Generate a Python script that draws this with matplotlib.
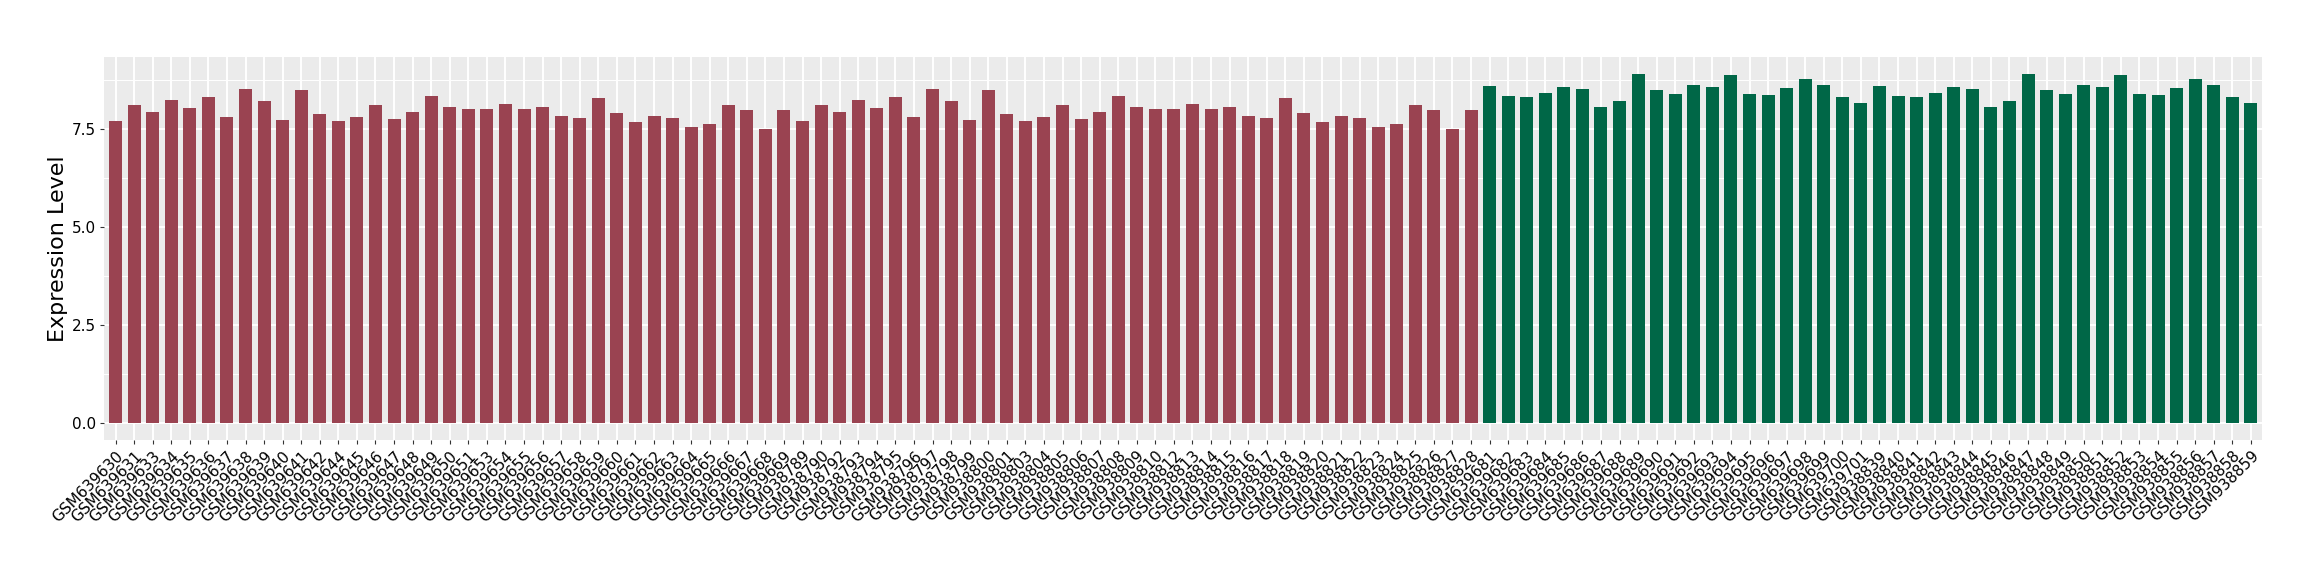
import matplotlib
matplotlib.use("Agg")
import matplotlib.pyplot as plt
from matplotlib.ticker import MultipleLocator

# sample ids, first group (red)
red_samples = (
    ["GSM6396%02d" % n for n in [30, 31, 33, 34, 35, 36, 37, 38, 39, 40, 41, 42, 44, 45, 46, 47, 48,
                                 49, 50, 51, 53, 54, 55, 56, 57, 58, 59, 60, 61, 62, 63, 64, 65, 66,
                                 67, 68, 69]]
    + ["GSM938%03d" % n for n in [789, 790, 792, 793, 794, 795, 796, 797, 798, 799, 800, 801, 803,
                                  804, 805, 806, 807, 808, 809, 810, 812, 813, 814, 815, 816, 817,
                                  818, 819, 820, 821, 822, 823, 824, 825, 826, 827, 828]]
)
red_values = [
    7.70, 8.10, 7.93, 8.23, 8.03, 8.31, 7.80, 8.51, 8.21, 7.72, 8.49, 7.88, 7.70, 7.80, 8.10, 7.75,
    7.93, 8.33, 8.05, 8.00, 8.00, 8.13, 8.00, 8.05, 7.82, 7.77, 8.28, 7.90, 7.67, 7.82, 7.77, 7.55,
    7.62, 8.10, 7.98, 7.49, 7.98,
    7.70, 8.10, 7.93, 8.23, 8.03, 8.31, 7.80, 8.51, 8.21, 7.72, 8.49, 7.88, 7.70, 7.80, 8.10, 7.75,
    7.93, 8.33, 8.05, 8.00, 8.00, 8.13, 8.00, 8.05, 7.82, 7.77, 8.28, 7.90, 7.67, 7.82, 7.77, 7.55,
    7.62, 8.10, 7.98, 7.49, 7.98,
]

# second group (green)
green_samples = (
    ["GSM639%03d" % n for n in range(681, 702)]
    + ["GSM938%03d" % n for n in range(839, 860)]
)
green_values = [
    8.59, 8.33, 8.31, 8.41, 8.56, 8.51, 8.05, 8.21, 8.89, 8.49, 8.38, 8.61, 8.56, 8.87, 8.38, 8.36,
    8.54, 8.77, 8.61, 8.31, 8.16,
    8.59, 8.33, 8.31, 8.41, 8.56, 8.51, 8.05, 8.21, 8.89, 8.49, 8.38, 8.61, 8.56, 8.87, 8.38, 8.36,
    8.54, 8.77, 8.61, 8.31, 8.16,
]

samples = red_samples + green_samples
values = red_values + green_values
colors = ["#9A4351"] * len(red_values) + ["#006747"] * len(green_values)

fig = plt.figure(figsize=(23.2, 5.8), dpi=100)
ax = fig.add_axes([0.0450, 0.2414, 0.9300, 0.6608])
ax.set_facecolor("#EBEBEB")

x = list(range(len(samples)))
ax.bar(x, values, width=0.7, color=colors, zorder=3)

n = len(samples)
ax.set_xlim(-0.6, n - 1 + 0.6)
top = max(values) * 1.05
ax.set_ylim(-max(values) * 0.05, top)

ax.yaxis.set_major_locator(MultipleLocator(2.5))
ax.yaxis.set_minor_locator(MultipleLocator(1.25))
ax.set_yticks([0.0, 2.5, 5.0, 7.5])
ax.set_yticklabels(["0.0", "2.5", "5.0", "7.5"])
ax.grid(which="major", color="white", linewidth=1.4, zorder=0)
ax.grid(which="minor", axis="y", color="white", linewidth=0.7, zorder=0)
ax.set_axisbelow(True)

ax.set_xticks(x)
ax.set_xticklabels(samples, rotation=45, ha="right", va="top", rotation_mode="anchor")

for s in ax.spines.values():
    s.set_visible(False)

ax.tick_params(axis="both", which="major", length=3, width=0.8, color="#333333",
               labelsize=11, labelcolor="black", pad=3)
ax.tick_params(axis="y", which="minor", length=0)

ax.set_ylabel("Expression Level", fontsize=16, labelpad=3)

fig.savefig("out.png", dpi=100)
